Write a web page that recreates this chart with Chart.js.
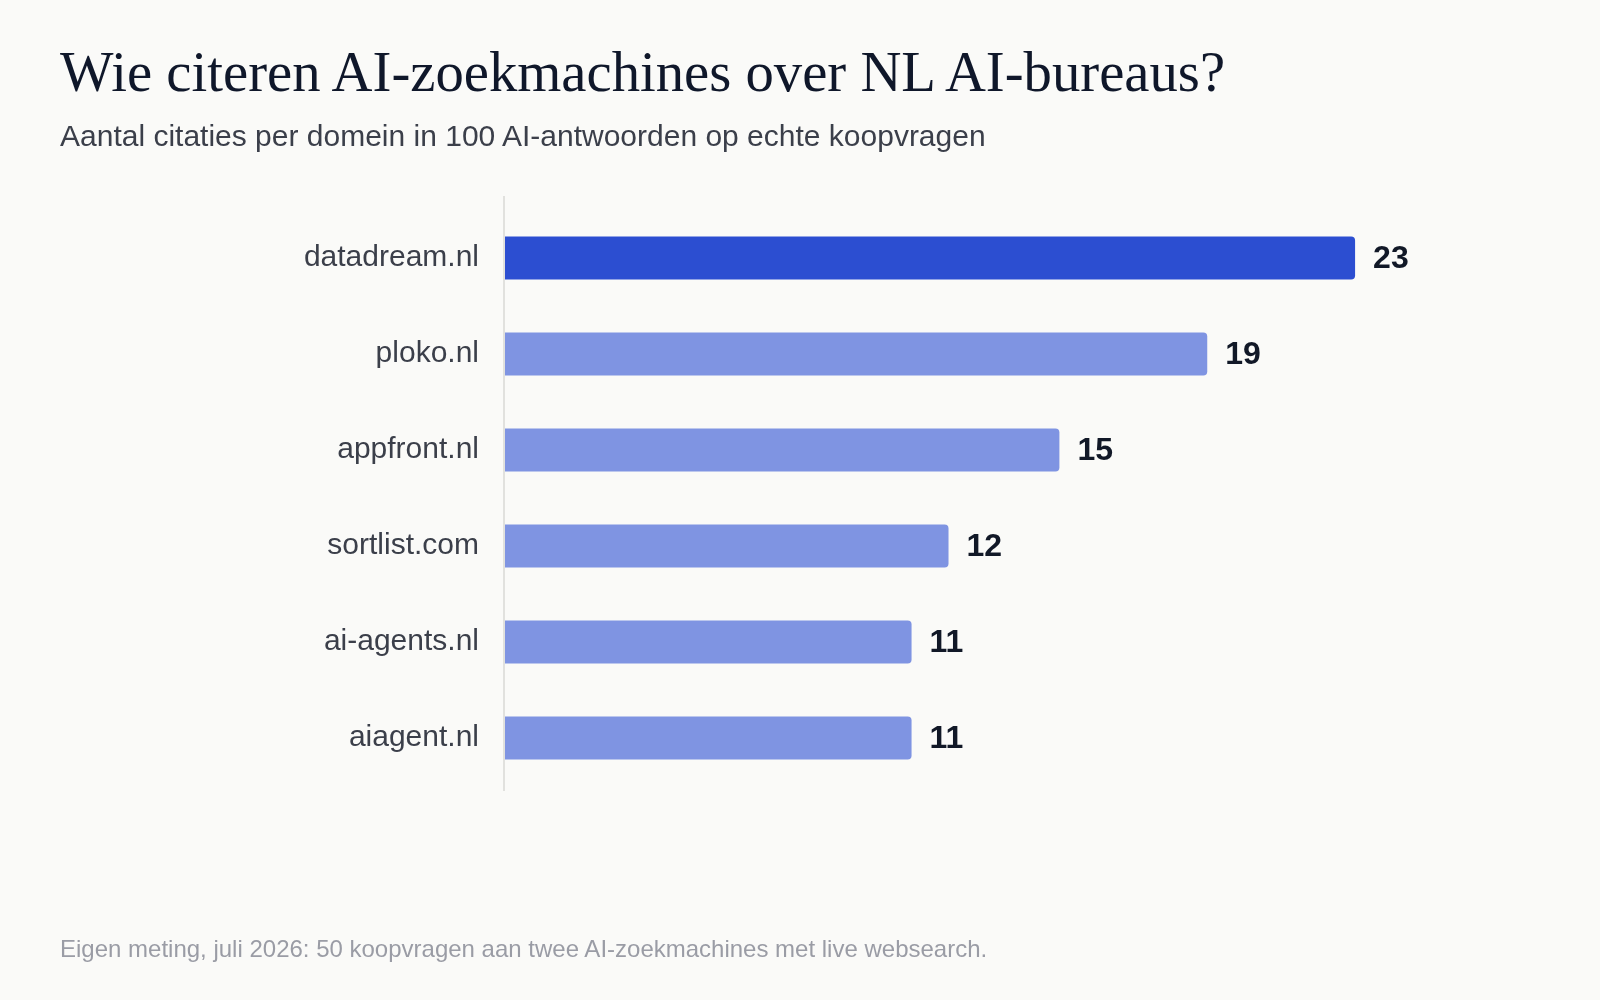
<!DOCTYPE html>
<html>
<head>
<meta charset="utf-8">
<script src="https://cdn.jsdelivr.net/npm/chart.js@4.4.1/dist/chart.umd.min.js"></script>
<style>
  html, body { margin:0; padding:0; background:#FAFAF8; }
  body { width:1600px; height:1000px; position:relative; overflow:hidden; }
  #title { position:absolute; left:60px; top:40px; font-family:"Liberation Serif", Georgia, serif; font-size:56.7px; line-height:64px; color:#0F172A; white-space:nowrap; }
  #subtitle { position:absolute; left:60px; top:118px; font-family:"Liberation Sans", Arial, sans-serif; font-size:30px; line-height:36px; color:#3B3F4A; white-space:nowrap; }
  #note { position:absolute; left:60px; top:934px; font-family:"Liberation Sans", Arial, sans-serif; font-size:24px; line-height:30px; color:#9A9CA5; white-space:nowrap; }
  #wrap { position:absolute; left:0; top:0; width:1600px; height:1000px; }
</style>
</head>
<body>
<div id="wrap"><canvas id="c" width="1600" height="1000"></canvas></div>
<div id="title">Wie citeren AI-zoekmachines over NL AI-bureaus?</div>
<div id="subtitle">Aantal citaties per domein in 100 AI-antwoorden op echte koopvragen</div>
<div id="note">Eigen meting, juli 2026: 50 koopvragen aan twee AI-zoekmachines met live websearch.</div>
<script>
const domains = ["datadream.nl", "ploko.nl", "appfront.nl", "sortlist.com", "ai-agents.nl", "aiagent.nl"];
const citations = [23, 19, 15, 12, 11, 11];
const highlightDomain = "datadream.nl";

const barColors = domains.map(d => d === highlightDomain ? "#2C4ED1" : "#7F94E2");

const valueLabels = {
  id: "valueLabels",
  afterDatasetsDraw(chart) {
    const ctx = chart.ctx;
    const meta = chart.getDatasetMeta(0);
    ctx.save();
    ctx.font = "bold 32px 'Liberation Sans', Arial, sans-serif";
    ctx.fillStyle = "#111827";
    ctx.textAlign = "left";
    ctx.textBaseline = "middle";
    meta.data.forEach((bar, i) => {
      ctx.fillText(String(citations[i]), bar.x + 18, bar.y + 1);
    });
    ctx.restore();
  }
};

const axisLine = {
  id: "axisLine",
  beforeDatasetsDraw(chart) {
    const ctx = chart.ctx;
    const x0 = chart.scales.x.getPixelForValue(0);
    const a = chart.chartArea;
    ctx.save();
    ctx.strokeStyle = "#D9D9D6";
    ctx.lineWidth = 1.5;
    ctx.beginPath();
    ctx.moveTo(x0 - 1, a.top - 14);
    ctx.lineTo(x0 - 1, a.bottom + 5);
    ctx.stroke();
    ctx.restore();
  }
};

new Chart(document.getElementById("c"), {
  type: "bar",
  data: {
    labels: domains,
    datasets: [{
      data: citations,
      backgroundColor: barColors,
      borderRadius: 4,
      borderSkipped: "start",
      categoryPercentage: 0.9,
      barPercentage: 0.5
    }]
  },
  options: {
    indexAxis: "y",
    responsive: false,
    animation: false,
    devicePixelRatio: 1,
    layout: { padding: { left: 0, right: 171, top: 210, bottom: 214 } },
    plugins: { legend: { display: false }, tooltip: { enabled: false } },
    scales: {
      x: { display: false, min: 0, max: 25 },
      y: {
        grid: { display: false, drawTicks: false },
        border: { display: false },
        afterFit(scale) { scale.width = 505; },
        ticks: {
          padding: 26,
          color: "#3B3F4A",
          font: { family: "'Liberation Sans', Arial, sans-serif", size: 30 }
        }
      }
    }
  },
  plugins: [valueLabels, axisLine]
});
</script>
</body>
</html>
